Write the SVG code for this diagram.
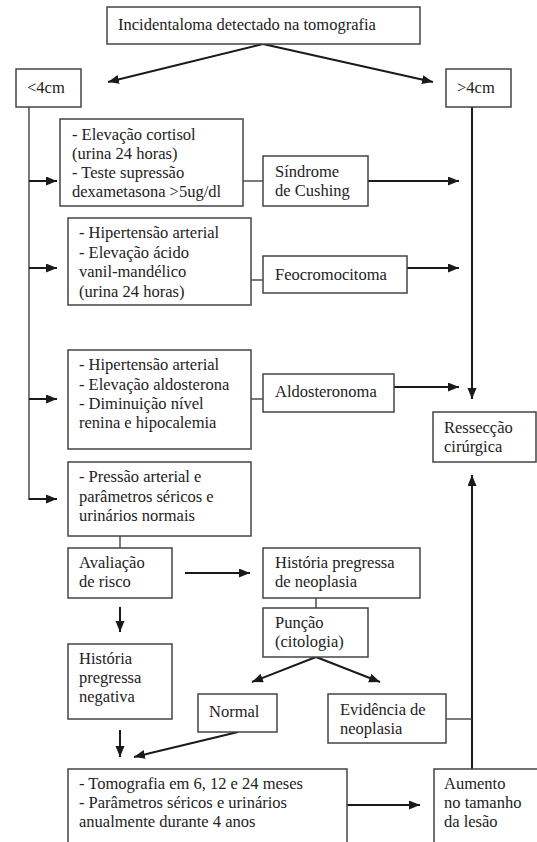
<svg xmlns="http://www.w3.org/2000/svg" width="537" height="842" viewBox="0 0 537 842">
<style>
.box{fill:#fff;stroke:#444;stroke-width:1.5}
text{font-size:16.5px;fill:#222}
.c{fill:none;stroke:#333;stroke-width:1.3}
.a{fill:none;stroke:#1a1a1a;stroke-width:2;marker-end:url(#ah)}
</style>
<defs>
<marker id="ah" markerUnits="userSpaceOnUse" markerWidth="12" markerHeight="10" refX="11" refY="4.5" orient="auto">
<path d="M0,0 L11,4.5 L0,9 z" fill="#1a1a1a"/>
</marker>
</defs>
<rect width="537" height="842" fill="#fff"/>
<g id="connectors">
<path class="a" d="M263,44 L108,82"/>
<path class="a" d="M263,44 L433,82"/>
<path class="c" d="M29,107 L29,499"/>
<path class="a" d="M29,181 L57,181"/>
<path class="a" d="M29,268 L57,268"/>
<path class="a" d="M29,399 L57,399"/>
<path class="a" d="M28.5,499 L57,499"/>
<path class="c" d="M243,181 L263,181"/>
<path class="c" d="M251,280 L263,280"/>
<path class="c" d="M251,399 L263,399"/>
<path class="a" d="M368,181 L459,181"/>
<path class="a" d="M407,268 L459,268"/>
<path class="a" d="M394,387 L459,387"/>
<path class="a" d="M472,107 L472,399"/>
<path class="a" d="M472,769 L472,475"/>
<path class="c" d="M446,719 L472,719"/>
<path class="c" d="M120,536 L120,548"/>
<path class="a" d="M185,573 L250,573"/>
<path class="a" d="M120,607 L120,632"/>
<path class="a" d="M120,730 L120,757"/>
<path class="c" d="M316,598 L316,608"/>
<path class="a" d="M316,657 L252,682"/>
<path class="a" d="M316,657 L380,682"/>
<path class="a" d="M238,732 L134,757"/>
<path class="a" d="M347,805 L420,805"/>
</g>
<g id="nodes" font-family="Liberation Serif, DejaVu Serif, serif">
<g id="n-incidentaloma"><rect class="box" x="107" y="7" width="313" height="37"/><text x="118" y="30">Incidentaloma detectado na tomografia</text></g>
<g id="n-menor4"><rect class="box" x="16" y="69" width="65" height="38"/><text x="27" y="93">&lt;4cm</text></g>
<g id="n-maior4"><rect class="box" x="446" y="69" width="65" height="38"/><text x="457" y="93">&gt;4cm</text></g>
<g id="n-cortisol"><rect class="box" x="60" y="119" width="183" height="87"/><text><tspan x="72" y="140">- Elevação cortisol</tspan><tspan x="72" y="159">(urina 24 horas)</tspan><tspan x="72" y="178">- Teste supressão</tspan><tspan x="72" y="197">dexametasona &gt;5ug/dl</tspan></text></g>
<g id="n-cushing"><rect class="box" x="263" y="156" width="105" height="50"/><text><tspan x="275" y="177">Síndrome</tspan><tspan x="275" y="196">de Cushing</tspan></text></g>
<g id="n-vanil"><rect class="box" x="68" y="218" width="183" height="87"/><text><tspan x="79" y="238">- Hipertensão arterial</tspan><tspan x="79" y="258">- Elevação ácido</tspan><tspan x="79" y="277">vanil-mandélico</tspan><tspan x="79" y="297">(urina 24 horas)</tspan></text></g>
<g id="n-feo"><rect class="box" x="263" y="256" width="144" height="37"/><text x="275" y="280">Feocromocitoma</text></g>
<g id="n-aldo-crit"><rect class="box" x="68" y="350" width="183" height="99"/><text><tspan x="79" y="370">- Hipertensão arterial</tspan><tspan x="79" y="390">- Elevação aldosterona</tspan><tspan x="79" y="409">- Diminuição nível</tspan><tspan x="79" y="428">renina e hipocalemia</tspan></text></g>
<g id="n-aldo"><rect class="box" x="263" y="374" width="131" height="38"/><text x="275" y="397">Aldosteronoma</text></g>
<g id="n-resseccao"><rect class="box" x="433" y="412" width="103" height="50"/><text><tspan x="444" y="433">Ressecção</tspan><tspan x="444" y="452">cirúrgica</tspan></text></g>
<g id="n-normais"><rect class="box" x="68" y="462" width="183" height="74"/><text><tspan x="79" y="482">- Pressão arterial e</tspan><tspan x="79" y="502">parâmetros séricos e</tspan><tspan x="79" y="521">urinários normais</tspan></text></g>
<g id="n-avaliacao"><rect class="box" x="68" y="548" width="104" height="50"/><text><tspan x="79" y="568">Avaliação</tspan><tspan x="79" y="587">de risco</tspan></text></g>
<g id="n-hist-neo"><rect class="box" x="263" y="548" width="157" height="50"/><text><tspan x="275" y="568">História pregressa</tspan><tspan x="275" y="587">de neoplasia</tspan></text></g>
<g id="n-puncao"><rect class="box" x="263" y="608" width="105" height="49"/><text><tspan x="275" y="628">Punção</tspan><tspan x="275" y="647">(citologia)</tspan></text></g>
<g id="n-hist-neg"><rect class="box" x="68" y="644" width="104" height="75"/><text><tspan x="79" y="664">História</tspan><tspan x="79" y="683">pregressa</tspan><tspan x="79" y="702">negativa</tspan></text></g>
<g id="n-normal"><rect class="box" x="198" y="694" width="79" height="38"/><text x="209" y="717">Normal</text></g>
<g id="n-evidencia"><rect class="box" x="328" y="694" width="118" height="49"/><text><tspan x="340" y="715">Evidência de</tspan><tspan x="340" y="734">neoplasia</tspan></text></g>
<g id="n-tomografia"><rect class="box" x="68" y="769" width="279" height="90"/><text><tspan x="79" y="789">- Tomografia em 6, 12 e 24 meses</tspan><tspan x="79" y="808">- Parâmetros séricos e urinários</tspan><tspan x="79" y="827">anualmente durante 4 anos</tspan></text></g>
<g id="n-aumento"><rect class="box" x="434" y="769" width="110" height="90"/><text><tspan x="444" y="789">Aumento</tspan><tspan x="444" y="808">no tamanho</tspan><tspan x="444" y="827">da lesão</tspan></text></g>
</g>
</svg>
